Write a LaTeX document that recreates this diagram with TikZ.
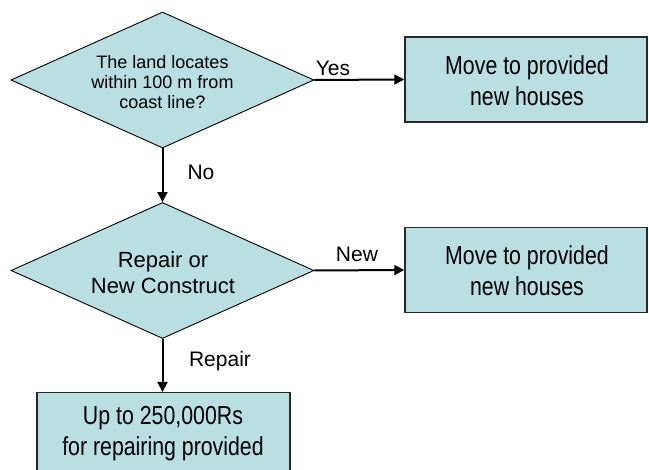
\documentclass[tikz,border=0pt]{standalone}
\usepackage{fontspec}
\setmainfont{Liberation Sans}
\newfontfamily\narrowfont[FakeStretch=0.82]{Liberation Sans}
\usetikzlibrary{shapes.geometric,arrows.meta}
\definecolor{boxfill}{RGB}{185,223,226}
\definecolor{boxline}{RGB}{40,40,40}
\tikzset{
  decision/.style={diamond, draw=black, line width=0.9pt, fill=boxfill, inner sep=0pt,
    minimum width=303pt, minimum height=136pt},
  actionbox/.style={rectangle, draw=boxline, line width=1.4pt, fill=boxfill, inner sep=0pt,
    minimum width=242pt, minimum height=85pt},
  boxtext/.style={align=center, font=\narrowfont\fontsize{26}{31}\selectfont},
  flowarrow/.style={line width=2pt, -{Triangle[length=10pt,width=10pt]}},
  branchlabel/.style={font=\fontsize{21}{24}\selectfont, inner sep=0pt}
}
\begin{document}
\begin{tikzpicture}[x=1pt,y=-1pt]
\useasboundingbox (0,0) rectangle (649,470);
\fill[white] (0,0) rectangle (649,470);
\clip (0,0) rectangle (649,470);

\node[decision] (d1) at (162.5,80) {};
\node[align=center, font=\fontsize{18}{20}\selectfont, inner sep=0pt] (d1t) at (162.5,82) {The land locates\\within 100 m from\\coast line?};

\node[decision] (d2) at (162.5,270.5) {};
\node[align=center, font=\fontsize{22}{26}\selectfont, inner sep=0pt] (d2t) at (163,273) {Repair or\\New Construct};

\node[actionbox] (b1) at (526,79.5) {};
\node[boxtext] (b1t) at (527,81) {Move to provided\\new houses};

\node[actionbox] (b2) at (526,270) {};
\node[boxtext] (b2t) at (527,271) {Move to provided\\new houses};

\node[actionbox, minimum width=253pt, minimum height=110pt, anchor=north] (b3) at (163.5,392) {};
\node[boxtext] (b3t) at (163,434) {Up to 250,000Rs\\for repairing provided};

\draw[flowarrow] (d1.east) -- (b1.west);
\draw[flowarrow] (d1.south) -- (d2.north);
\draw[flowarrow] (d2.east) -- (b2.west);
\draw[flowarrow] (d2.south) -- (d2.south |- b3.north);

\node[branchlabel] (lyes) at (333,68) {Yes};
\node[branchlabel] (lno) at (201,172) {No};
\node[branchlabel] (lnew) at (357,254) {New};
\node[branchlabel] (lrep) at (220,361) {Repair};
\end{tikzpicture}
\end{document}
